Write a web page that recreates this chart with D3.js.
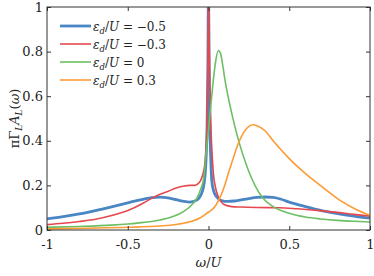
<!DOCTYPE html>
<html>
<head>
<meta charset="utf-8">
<script src="https://cdn.jsdelivr.net/npm/d3@7"></script>
<style>
  body { margin: 0; background: #fff; }
  svg { display: block; }
  svg text { font-family: 'DejaVu Serif', 'Liberation Serif', 'Noto Serif', serif; }
</style>
</head>
<body>
<svg id="chart" width="374" height="276"></svg>
<script>
// ε_d/U = -0.5
const blueX = [-1, -0.9, -0.8, -0.7, -0.6, -0.5, -0.4, -0.35, -0.3, -0.25, -0.2, -0.15, -0.12, -0.09, -0.06, -0.045, -0.032, -0.022, -0.015, -0.009, -0.004, 0, 0.004, 0.009, 0.015, 0.02, 0.03, 0.05, 0.08, 0.12, 0.16, 0.2, 0.25, 0.3, 0.35, 0.4, 0.45, 0.5, 0.6, 0.7, 0.8, 0.9, 1]
const blueY = [0.05, 0.06, 0.072, 0.087, 0.104, 0.122, 0.139, 0.145, 0.147, 0.144, 0.136, 0.128, 0.125, 0.128, 0.142, 0.16, 0.19, 0.24, 0.32, 0.46, 0.72, 1.1, 0.75, 0.45, 0.3, 0.224, 0.18, 0.149, 0.132, 0.128, 0.13, 0.135, 0.141, 0.146, 0.148, 0.146, 0.138, 0.125, 0.105, 0.087, 0.073, 0.062, 0.053]

// ε_d/U = -0.3
const redX = [-1, -0.9, -0.8, -0.7, -0.6, -0.5, -0.4, -0.35, -0.3, -0.25, -0.2, -0.15, -0.12, -0.09, -0.07, -0.05, -0.035, -0.022, -0.014, -0.008, -0.004, 0, 0.004, 0.009, 0.014, 0.02, 0.03, 0.045, 0.061, 0.08, 0.1, 0.144, 0.2, 0.3, 0.44, 0.55, 0.69, 0.8, 0.9, 1]
const redY = [0.024, 0.03, 0.038, 0.048, 0.065, 0.087, 0.122, 0.143, 0.16, 0.174, 0.188, 0.197, 0.2, 0.2, 0.205, 0.22, 0.25, 0.3, 0.38, 0.52, 0.75, 1.1, 0.85, 0.62, 0.48, 0.374, 0.255, 0.185, 0.149, 0.125, 0.113, 0.105, 0.103, 0.101, 0.1, 0.095, 0.087, 0.079, 0.07, 0.062]

// ε_d/U = 0
const greenX = [-1, -0.8, -0.6, -0.5, -0.4, -0.3, -0.22, -0.15, -0.1, -0.06, -0.05, -0.03, -0.011, 0, 0.009, 0.02, 0.03, 0.045, 0.061, 0.075, 0.09, 0.102, 0.144, 0.185, 0.246, 0.33, 0.4, 0.5, 0.6, 0.7, 0.8, 0.9, 1]
const greenY = [0.012, 0.016, 0.022, 0.027, 0.034, 0.045, 0.06, 0.085, 0.115, 0.16, 0.18, 0.23, 0.374, 0.45, 0.52, 0.6, 0.673, 0.76, 0.805, 0.79, 0.73, 0.673, 0.523, 0.404, 0.269, 0.149, 0.105, 0.075, 0.058, 0.049, 0.043, 0.039, 0.036]

// ε_d/U = 0.3
const orangeX = [-1, -0.75, -0.5, -0.3, -0.2, -0.115, -0.05, -0.01, 0.02, 0.04, 0.06, 0.082, 0.1, 0.123, 0.15, 0.185, 0.22, 0.25, 0.277, 0.3, 0.35, 0.4, 0.5, 0.61, 0.71, 0.81, 0.92, 1]
const orangeY = [0.005, 0.008, 0.012, 0.018, 0.025, 0.037, 0.055, 0.075, 0.09, 0.105, 0.13, 0.164, 0.2, 0.254, 0.315, 0.389, 0.44, 0.465, 0.472, 0.468, 0.445, 0.4, 0.32, 0.247, 0.19, 0.135, 0.09, 0.066]

const seriesLabels = ['\u22120.5', '\u22120.3', '0', '0.3']
const seriesColors = ['#4a86c4', '#e5484d', '#6cbf62', '#fd9b35']
const seriesWidths = [2.8, 1.6, 1.6, 1.6]

const xTicks = [-1, -0.5, 0, 0.5, 1]
const xTickLabels = ['-1', '-0.5', '0', '0.5', '1']
const yTicks = [0, 0.2, 0.4, 0.6, 0.8, 1]
const yTickLabels = ['0', '0.2', '0.4', '0.6', '0.8', '1']

const series = [
  { xs: blueX, ys: blueY },
  { xs: redX, ys: redY },
  { xs: greenX, ys: greenY },
  { xs: orangeX, ys: orangeY }
]

const serif = "'DejaVu Serif', 'Liberation Serif', 'Noto Serif', serif"
const svg = d3.select('#chart').attr('font-family', serif)
const plotL = 47, plotR = 370, plotT = 7, plotB = 230

const x = d3.scaleLinear().domain([-1, 1]).range([plotL, plotR])
const y = d3.scaleLinear().domain([0, 1]).range([plotB, plotT])

svg.append('defs').append('clipPath').attr('id', 'plot-clip')
  .append('rect')
  .attr('x', plotL).attr('y', plotT)
  .attr('width', plotR - plotL).attr('height', plotB - plotT)

const line = d3.line()
  .x(d => x(d[0]))
  .y(d => y(d[1]))
  .curve(d3.curveMonotoneX)

const plot = svg.append('g').attr('clip-path', 'url(#plot-clip)')

series.forEach((s, i) => {
  plot.append('path')
    .datum(s.xs.map((v, j) => [v, s.ys[j]]))
    .attr('fill', 'none')
    .attr('stroke', seriesColors[i])
    .attr('stroke-width', seriesWidths[i])
    .attr('stroke-linejoin', 'round')
    .attr('d', line)
})

// axes, ticks inside on all four sides
const axisColor = '#333'
const tickLen = 4

svg.append('g')
  .attr('transform', `translate(0,${plotB})`)
  .call(d3.axisBottom(x).tickValues(xTicks).tickSizeInner(-tickLen).tickSizeOuter(0)
    .tickFormat((d, i) => xTickLabels[i]))
  .attr('font-family', serif)
  .call(g => g.select('.domain').remove())
  .call(g => g.selectAll('.tick line').attr('stroke', axisColor))
  .call(g => g.selectAll('.tick text').attr('y', 10).attr('dy', '0.71em')
    .attr('font-size', 13).attr('fill', '#222'))

svg.append('g')
  .attr('transform', `translate(0,${plotT})`)
  .call(d3.axisTop(x).tickValues(xTicks).tickSizeInner(-tickLen).tickSizeOuter(0).tickFormat(''))
  .call(g => g.select('.domain').remove())
  .call(g => g.selectAll('.tick line').attr('stroke', axisColor))

svg.append('g')
  .attr('transform', `translate(${plotL},0)`)
  .call(d3.axisLeft(y).tickValues(yTicks).tickSizeInner(-tickLen).tickSizeOuter(0)
    .tickFormat((d, i) => yTickLabels[i]))
  .attr('font-family', serif)
  .call(g => g.select('.domain').remove())
  .call(g => g.selectAll('.tick line').attr('stroke', axisColor))
  .call(g => g.selectAll('.tick text').attr('x', -4)
    .attr('font-size', 13).attr('fill', '#222'))

svg.append('g')
  .attr('transform', `translate(${plotR},0)`)
  .call(d3.axisRight(y).tickValues(yTicks).tickSizeInner(-tickLen).tickSizeOuter(0).tickFormat(''))
  .call(g => g.select('.domain').remove())
  .call(g => g.selectAll('.tick line').attr('stroke', axisColor))

svg.append('rect')
  .attr('x', plotL).attr('y', plotT)
  .attr('width', plotR - plotL).attr('height', plotB - plotT)
  .attr('fill', 'none')
  .attr('stroke', axisColor)
  .attr('stroke-width', 1)

// axis labels
const xLabel = svg.append('text')
  .attr('x', x(0)).attr('y', 267)
  .attr('text-anchor', 'middle')
  .attr('font-size', 13).attr('fill', '#222')
xLabel.append('tspan').attr('font-style', 'italic').text('\u03C9')
xLabel.append('tspan').text('/')
xLabel.append('tspan').attr('font-style', 'italic').text('U')

const yLabel = svg.append('text')
  .attr('transform', `translate(19,${(plotT + plotB) / 2}) rotate(-90)`)
  .attr('text-anchor', 'middle')
  .attr('font-size', 13).attr('fill', '#222')
yLabel.append('tspan').text('\u03C0\u0393')
yLabel.append('tspan').attr('font-style', 'italic').attr('font-size', 9).attr('dy', 3).text('L')
yLabel.append('tspan').attr('font-style', 'italic').attr('dy', -3).text('A')
yLabel.append('tspan').attr('font-style', 'italic').attr('font-size', 9).attr('dy', 3).text('L')
yLabel.append('tspan').attr('dy', -3).text('(')
yLabel.append('tspan').attr('font-style', 'italic').text('\u03C9')
yLabel.append('tspan').text(')')

// legend
const legend = svg.append('g').attr('transform', 'translate(60,26)')
seriesLabels.forEach((lab, i) => {
  const row = legend.append('g').attr('transform', `translate(0,${i * 18})`)
  row.append('line')
    .attr('x1', 0).attr('x2', 31)
    .attr('stroke', seriesColors[i])
    .attr('stroke-width', seriesWidths[i])
  const t = row.append('text')
    .attr('x', 33).attr('y', 4.5)
    .attr('font-size', 12).attr('fill', '#222')
  t.append('tspan').attr('font-style', 'italic').text('\u03B5')
  t.append('tspan').attr('font-style', 'italic').attr('font-size', 8.5).attr('dy', 3).text('d')
  t.append('tspan').attr('dy', -3).text('/')
  t.append('tspan').attr('font-style', 'italic').text('U')
  t.append('tspan').text(' = ' + lab)
})
</script>
</body>
</html>
